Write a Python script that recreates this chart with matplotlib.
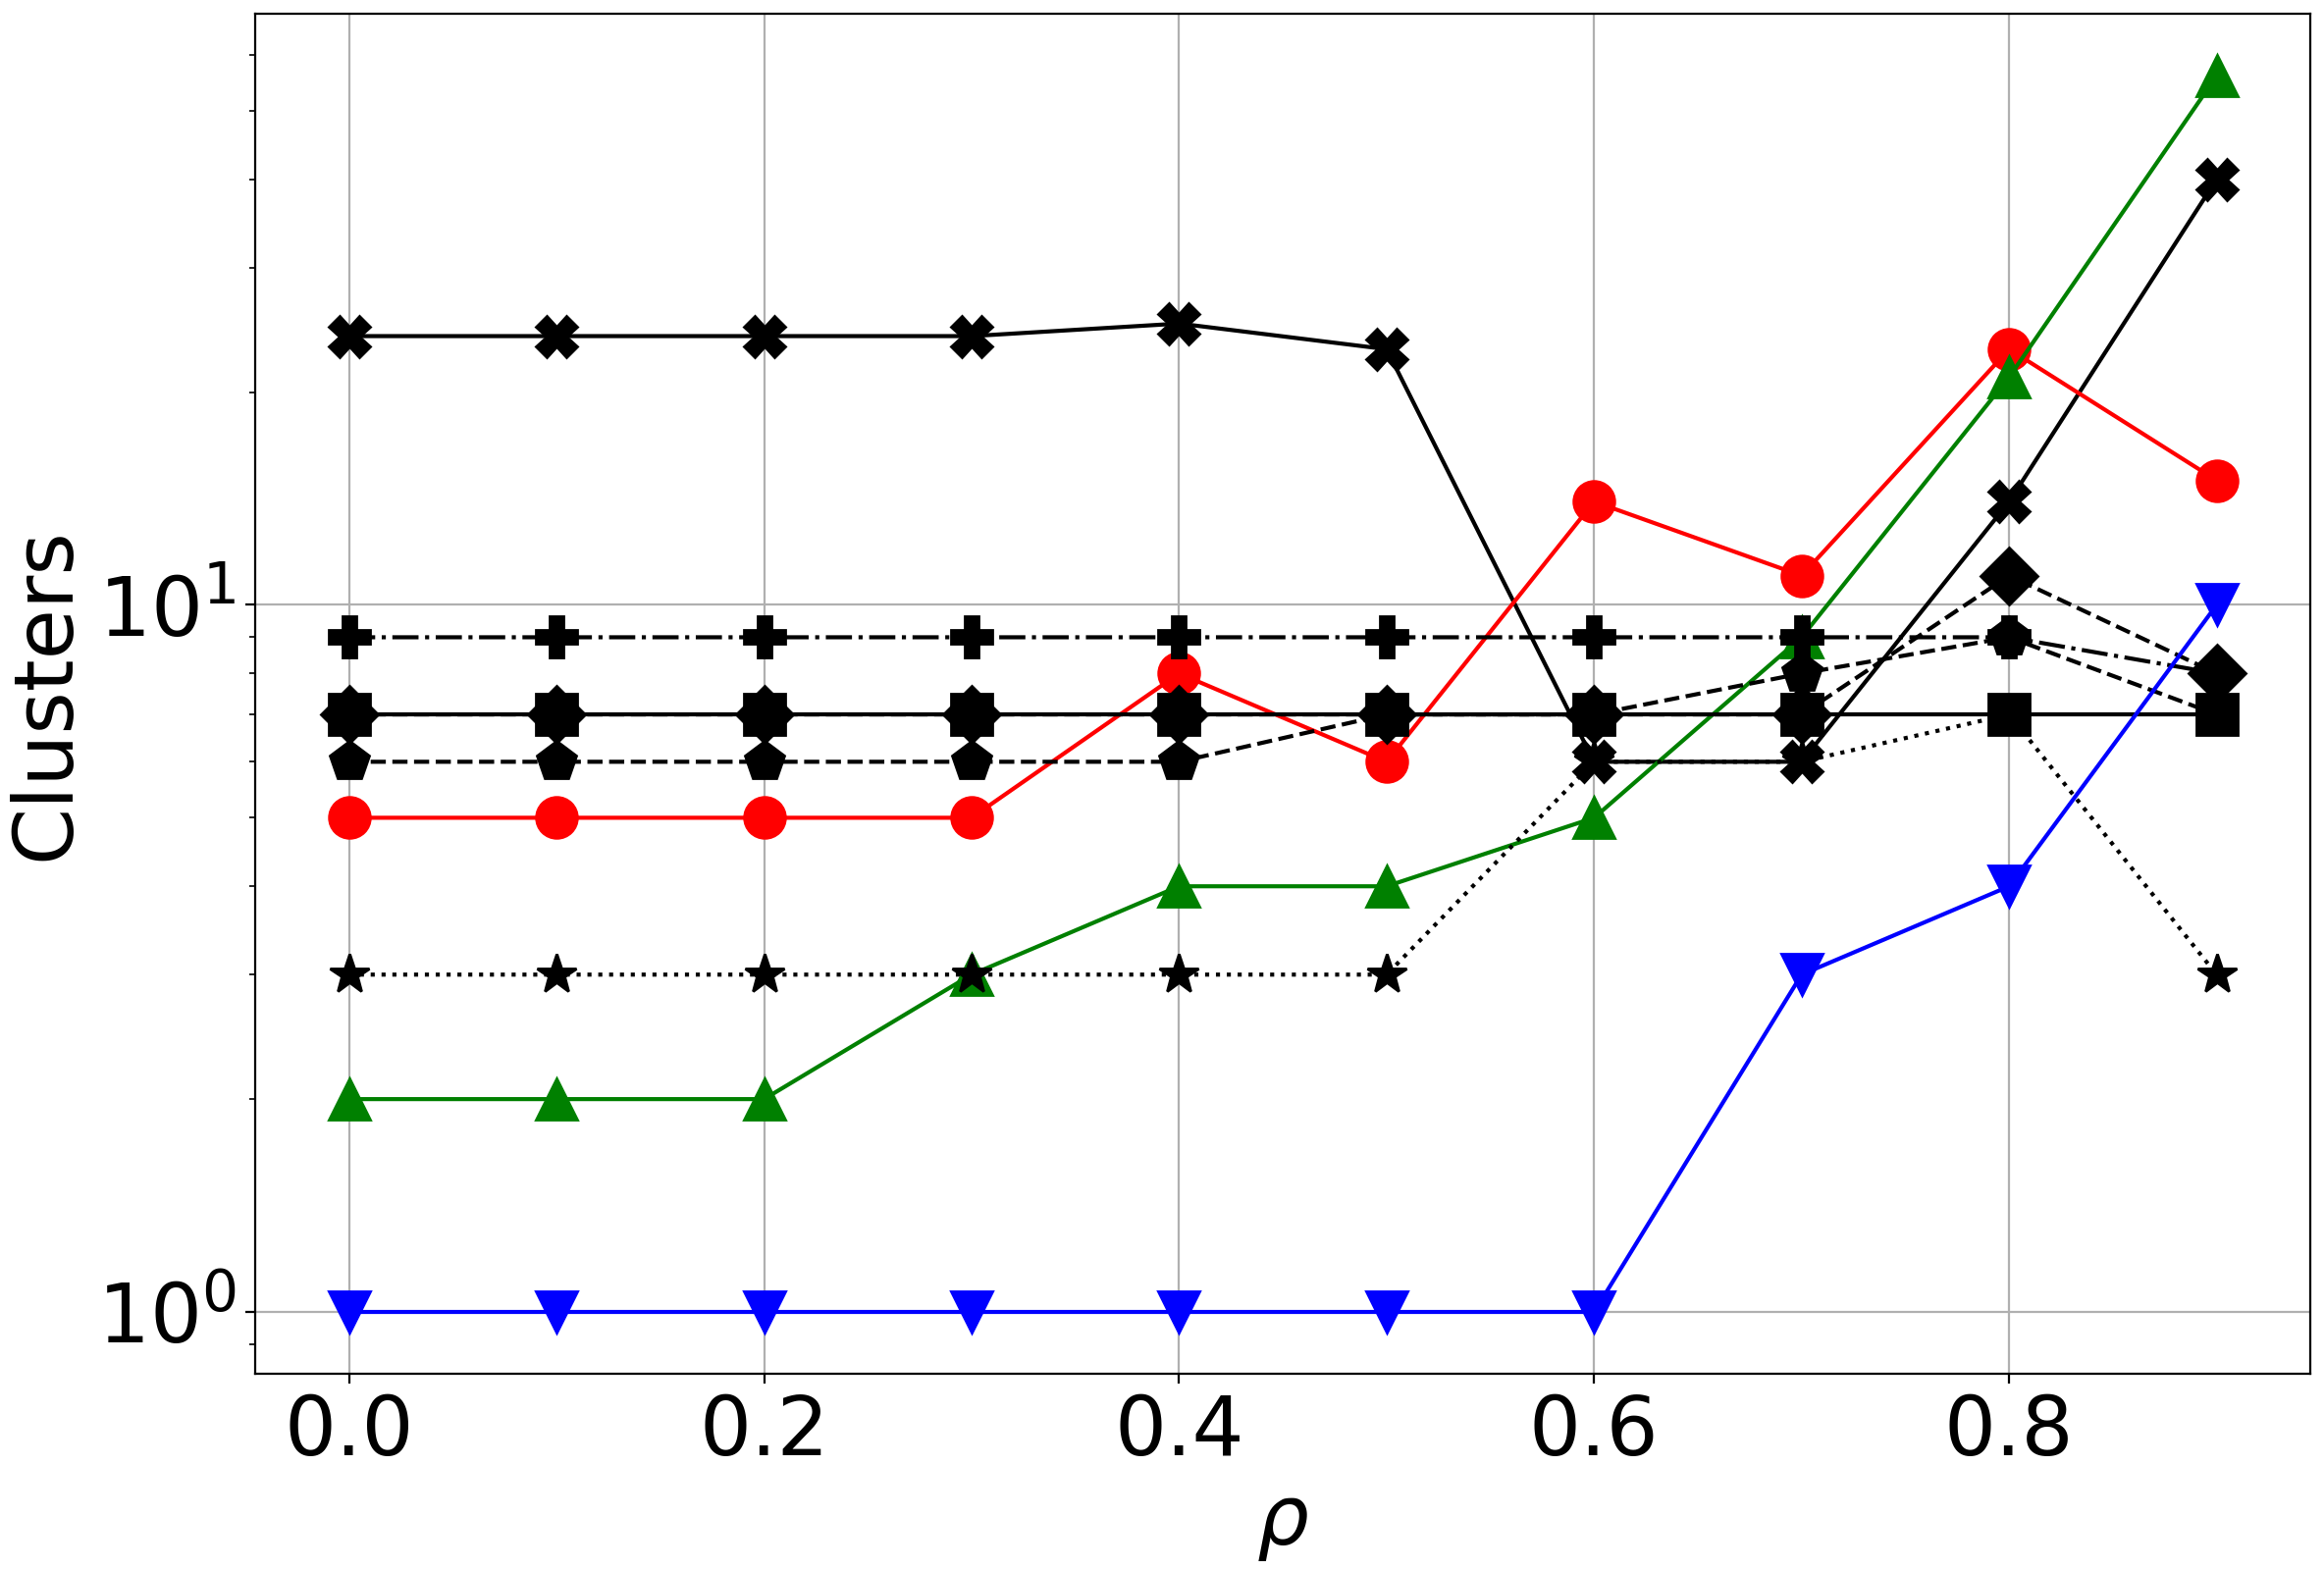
import numpy as np
import matplotlib.pyplot as plt

rho = [0.0, 0.1, 0.2, 0.3, 0.4, 0.5, 0.6, 0.7, 0.8, 0.9]

# cluster counts, one list per curve
x_solid = [24, 24, 24, 24, 25, 23, 6, 6, 14, 40]
red_circle = [5, 5, 5, 5, 8, 6, 14, 11, 23, 15]
green_tri = [2, 2, 2, 3, 4, 4, 5, 9, 21, 56]
star_dotted = [3, 3, 3, 3, 3, 3, 6, 6, 7, 3]
pent_dashed = [6, 6, 6, 6, 6, 7, 7, 8, 9, 7]
plus_dashdot = [9, 9, 9, 9, 9, 9, 9, 9, 9, 8]
square_solid = [7, 7, 7, 7, 7, 7, 7, 7, 7, 7]
diamond_dashed = [7, 7, 7, 7, 7, 7, 7, 7, 11, 8]
blue_tri = [1, 1, 1, 1, 1, 1, 1, 3, 4, 10]

fig, ax = plt.subplots(figsize=(11.84, 8), dpi=200)
fig.subplots_adjust(left=0.110, right=0.994, bottom=0.125, top=0.991)

ms = 15
ax.plot(rho, x_solid, color='black', linestyle='-', marker='X', markersize=ms)
ax.plot(rho, red_circle, color='red', linestyle='-', marker='o', markersize=ms)
ax.plot(rho, green_tri, color='green', linestyle='-', marker='^', markersize=ms)
ax.plot(rho, star_dotted, color='black', linestyle=':', marker='*', markersize=ms)
ax.plot(rho, pent_dashed, color='black', linestyle='--', marker='p', markersize=ms)
ax.plot(rho, plus_dashdot, color='black', linestyle='-.', marker='P', markersize=ms)
ax.plot(rho, square_solid, color='black', linestyle='-', marker='s', markersize=ms)
ax.plot(rho, diamond_dashed, color='black', linestyle='--', marker='D', markersize=ms)
ax.plot(rho, blue_tri, color='blue', linestyle='-', marker='v', markersize=ms)

ax.set_yscale('log')
ax.set_xticks([0.0, 0.2, 0.4, 0.6, 0.8])
ax.grid(True)
ax.tick_params(axis='both', labelsize=30)
ax.set_xlabel(r'$\rho$', fontsize=30)
ax.set_ylabel('Clusters', fontsize=30)

plt.savefig('out.png')
